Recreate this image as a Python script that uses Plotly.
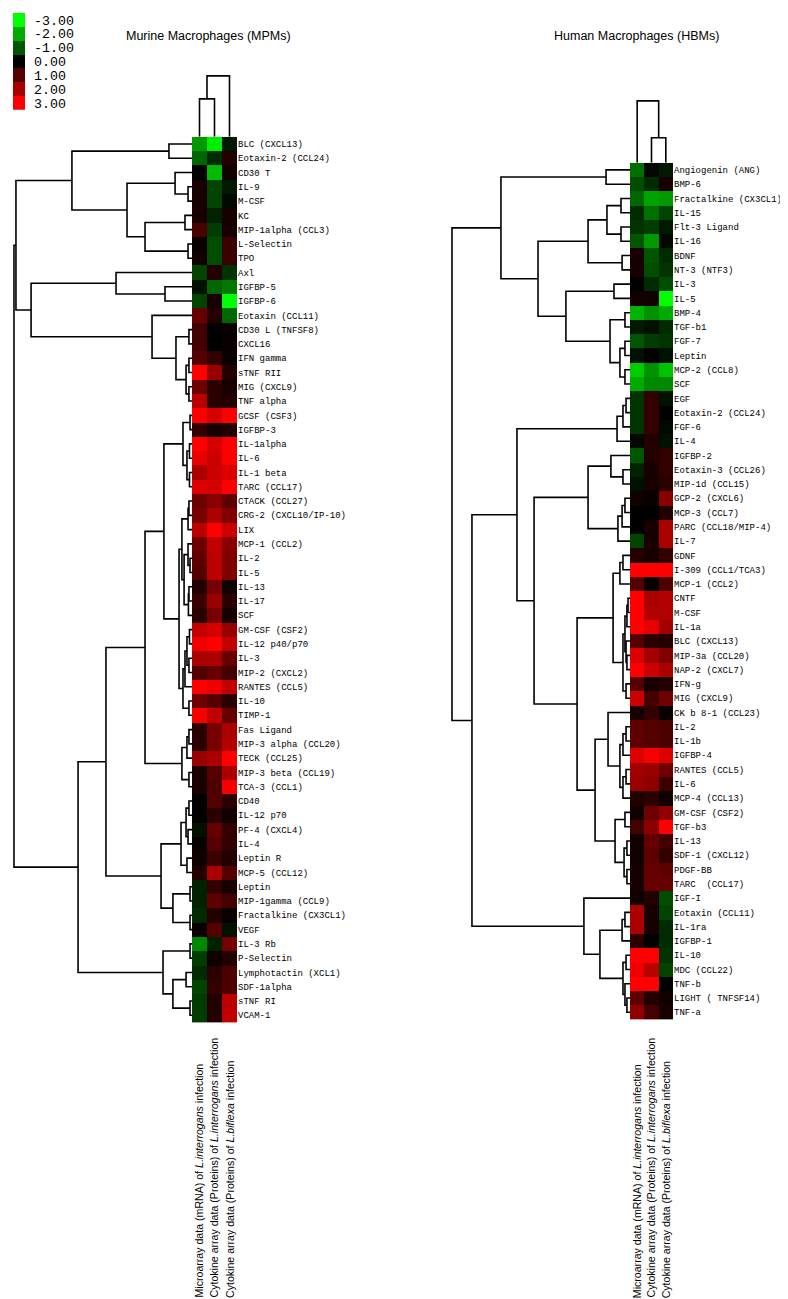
import plotly.graph_objects as go

W, H = 788, 1299

# ---- data: murine macrophages (MPMs) ----
murine_genes = [
    "BLC (CXCL13)", "Eotaxin-2 (CCL24)", "CD30 T", "IL-9", "M-CSF", "KC",
    "MIP-1alpha (CCL3)", "L-Selectin", "TPO", "Axl", "IGFBP-5", "IGFBP-6",
    "Eotaxin (CCL11)", "CD30 L (TNFSF8)", "CXCL16", "IFN gamma", "sTNF RII",
    "MIG (CXCL9)", "TNF alpha", "GCSF (CSF3)", "IGFBP-3", "IL-1alpha", "IL-6",
    "IL-1 beta", "TARC (CCL17)", "CTACK (CCL27)", "CRG-2 (CXCL10/IP-10)", "LIX",
    "MCP-1 (CCL2)", "IL-2", "IL-5", "IL-13", "IL-17", "SCF", "GM-CSF (CSF2)",
    "IL-12 p40/p70", "IL-3", "MIP-2 (CXCL2)", "RANTES (CCL5)", "IL-10", "TIMP-1",
    "Fas Ligand", "MIP-3 alpha (CCL20)", "TECK (CCL25)", "MIP-3 beta (CCL19)",
    "TCA-3 (CCL1)", "CD40", "IL-12 p70", "PF-4 (CXCL4)", "IL-4", "Leptin R",
    "MCP-5 (CCL12)", "Leptin", "MIP-1gamma (CCL9)", "Fractalkine (CX3CL1)", "VEGF",
    "IL-3 Rb", "P-Selectin", "Lymphotactin (XCL1)", "SDF-1alpha", "sTNF RI", "VCAM-1",
]
murine_mrna = [
    -1.8, -1.2, 0.0, 0.3, 0.3, 0.3, 0.9, 0.1, 0.2, -0.8, -0.2, -0.8,
    1.2, 0.8, 0.8, 1.0, 3.0, 1.3, 2.2, 3.0, 0.6, 3.0, 2.7,
    2.0, 2.6, 1.3, 1.4, 2.2, 1.3, 1.1, 1.0, 0.4, 0.7, 0.5, 2.3,
    2.8, 2.0, 1.0, 3.0, 1.3, 2.9, 0.5, 0.5, 1.8, 0.3,
    0.3, 0.0, 0.0, -0.2, 0.1, 0.2, 0.4, -0.4, -0.4, -0.5, 0.1,
    -1.6, -0.7, -0.5, -0.8, -0.7, -0.7,
]
murine_interrogans = [
    -2.8, -0.5, -2.2, -0.8, -0.8, -0.4, -0.7, -0.9, -0.9, 0.4, -1.2, 0.3,
    0.4, 0.0, 0.0, 0.6, 1.8, 0.5, 0.5, 2.5, 0.3, 2.5, 2.4,
    2.4, 2.5, 1.6, 2.0, 3.0, 2.3, 2.2, 2.2, 1.4, 1.8, 1.4, 2.5,
    3.0, 2.0, 1.2, 2.8, 1.0, 2.3, 1.4, 1.4, 2.0, 1.0,
    0.9, 1.0, 0.5, 1.2, 1.0, 0.7, 2.0, 0.6, 1.1, 0.4, 1.0,
    -0.4, 0.2, 0.5, 0.6, 0.4, 0.4,
]
murine_biflexa = [
    -0.3, 0.4, 0.2, -0.3, -0.1, 0.3, 0.3, 0.7, 0.7, -0.6, -1.4, -3.0,
    -1.2, 0.1, 0.1, 0.1, 0.4, 0.3, 0.4, 3.0, 0.4, 3.0, 3.0,
    2.6, 3.0, 1.1, 1.5, 2.4, 1.6, 1.5, 1.5, 0.2, 0.5, 0.3, 1.8,
    2.3, 1.2, 0.8, 2.3, 0.5, 1.2, 2.0, 2.1, 3.0, 2.0,
    2.9, 0.5, 0.2, 0.6, 0.6, 0.4, 1.0, 0.3, 0.8, 0.1, -0.2,
    1.4, 0.4, 0.9, 0.9, 2.2, 2.3,
]
# row clustering [height, left, right]; leaves are row indices
murine_row_tree = [0.989,
    [0.978,
        [0.667, [0.128, 0, 1],
            [0.361, [0.094, 2, [0.022, 3, 4]],
                    [0.261, [0.039, 5, 6], [0.022, 7, 8]]]],
        [0.894, [0.422, 9, [0.15, 10, 11]],
            [0.222, 12, [0.089, [0.017, 13, 14],
                                [0.033, [0.017, 15, 16], [0.017, 17, 18]]]]]],
    [0.633,
        [0.478,
            [0.261,
                [0.156,
                    [0.05, [0.011, 19, 20], [0.028, [0.014, 21, 22], [0.014, 23, 24]]],
                    [0.072,
                        [0.056, [0.022, [0.017, 25, 26], 27],
                                [0.044, [0.022, 28, [0.011, 29, 30]], [0.02, [0.017, 31, 32], 33]]],
                        [0.05, [0.039, [0.028, [0.014, 34, 35], [0.017, 36, 37]], 38],
                               [0.017, 39, 40]]]],
                [0.056, [0.028, [0.017, 41, 42], 43], [0.017, 44, 45]]],
            [0.172, [0.061, [0.033, [0.017, 46, 47], [0.022, 48, 49]], [0.028, 50, 51]],
                    [0.106, [0.011, 52, 53], [0.011, 54, 55]]]],
        [0.161, [0.011, 56, 57], [0.106, [0.033, 58, 59], [0.011, 60, 61]]]]]
murine_col_tree = [0.968, [0.603, 0, 1], 2]

# ---- data: human macrophages (HBMs) ----
human_genes = [
    "Angiogenin (ANG)", "BMP-6", "Fractalkine (CX3CL1)", "IL-15", "Flt-3 Ligand",
    "IL-16", "BDNF", "NT-3 (NTF3)", "IL-3", "IL-5", "BMP-4", "TGF-b1", "FGF-7",
    "Leptin", "MCP-2 (CCL8)", "SCF", "EGF", "Eotaxin-2 (CCL24)", "FGF-6", "IL-4",
    "IGFBP-2", "Eotaxin-3 (CCL26)", "MIP-1d (CCL15)", "GCP-2 (CXCL6)", "MCP-3 (CCL7)",
    "PARC (CCL18/MIP-4)", "IL-7", "GDNF", "I-309 (CCL1/TCA3)", "MCP-1 (CCL2)", "CNTF",
    "M-CSF", "IL-1a", "BLC (CXCL13)", "MIP-3a (CCL20)", "NAP-2 (CXCL7)", "IFN-g",
    "MIG (CXCL9)", "CK b 8-1 (CCL23)", "IL-2", "IL-1b", "IGFBP-4", "RANTES (CCL5)",
    "IL-6", "MCP-4 (CCL13)", "GM-CSF (CSF2)", "TGF-b3", "IL-13", "SDF-1 (CXCL12)",
    "PDGF-BB", "TARC  (CCL17)", "IGF-I", "Eotaxin (CCL11)", "IL-1ra", "IGFBP-1",
    "IL-10", "MDC (CCL22)", "TNF-b", "LIGHT ( TNFSF14)", "TNF-a",
]
human_mrna = [
    -1.3, -0.9, -1.2, -0.5, -0.6, -1.0, 0.3, 0.3, 0.0, 0.2, -2.1, -0.3, -1.0,
    -0.2, -2.4, -2.0, -0.6, -0.6, -0.6, -0.1, -1.0, -0.4, -0.2, 0.2, 0.0,
    0.0, -0.8, 0.4, 3.0, 1.0, 3.0, 3.0, 3.0, 1.0, 2.6, 3.0, 1.0,
    2.4, 0.3, 1.1, 1.1, 2.6, 1.9, 1.8, 0.4, 0.2, 0.8, 0.2, 0.2,
    0.3, 0.3, 0.2, 2.0, 2.0, 0.5, 3.0, 2.8, 3.0, 1.1, 1.7,
]
human_interrogans = [
    -0.1, -0.5, -1.9, -1.3, -0.7, -1.8, -1.0, -0.9, -0.5, 0.2, -1.7, -0.2, -0.7,
    0.0, -1.7, -1.6, 0.6, 0.6, 0.6, 0.4, 0.4, 0.3, 0.3, 0.1, 0.0,
    0.3, 0.3, 0.3, 3.0, 0.1, 2.0, 2.1, 2.7, 0.5, 1.9, 2.4, 0.3,
    0.8, 0.6, 1.0, 1.0, 2.9, 1.8, 1.7, 0.5, 1.3, 1.6, 1.2, 1.1,
    1.2, 1.2, 0.4, 0.3, 0.3, 0.0, 3.0, 2.2, 3.0, 0.4, 0.8,
]
human_biflexa = [
    -0.3, 0.3, -1.8, -0.8, -0.3, -0.1, -0.5, -0.6, -0.9, -3.0, -2.0, -0.5, -0.6,
    -0.2, -2.3, -1.6, -0.2, 0.0, -0.1, -0.2, 0.6, 0.6, 0.5, 1.6, 0.4,
    2.0, 2.0, 0.6, 3.0, 0.9, 2.1, 2.1, 1.9, 0.4, 1.5, 2.0, 0.4,
    1.3, 0.1, 0.9, 0.9, 2.6, 1.3, 0.7, 0.2, 1.7, 3.0, 0.8, 0.6,
    1.1, 1.2, -0.9, -0.8, -0.5, -0.5, -0.6, -0.8, 0.0, 0.2, 0.3,
]
human_row_tree = [0.989,
    [0.717, [0.133, 0, 1],
        [0.511,
            [0.233, [0.128, [0.05, 2, 3], [0.05, 4, 5]], [0.044, 6, 7]],
            [0.356, [0.089, 8, 9],
                    [0.111, [0.028, 10, 11], [0.056, [0.028, 12, 13], [0.028, 14, 15]]]]]],
    [0.878,
        [0.628,
            [0.072, [0.039, [0.022, 16, 17], 18], 19],
            [0.533,
                [0.233, [0.106, 20, [0.039, 21, 22]],
                        [0.067, [0.044, [0.028, 23, 24], 25], 26]],
                [0.294,
                    [0.094, [0.056, [0.039, 27, 28], 29],
                            [0.039, [0.028, [0.017, [0.011, 30, 31], 32], [0.022, 33, [0.017, 34, 35]]],
                                    [0.022, 36, 37]]],
                    [0.194,
                        [0.122, 38, [0.056, [0.039, [0.022, 39, 40], 41], [0.039, [0.022, 42, 43], 44]]],
                        [0.083, [0.028, 45, 46], [0.033, [0.017, 47, 48], [0.017, 49, 50]]]]]]],
        [0.256, 51,
            [0.167, [0.044, [0.028, 52, 53], 54],
                    [0.039, [0.022, 55, 56], [0.028, 57, [0.017, 58, 59]]]]]]]
human_col_tree = [0.984, 0, [0.397, 1, 2]]

legend_values = [-3, -2, -1, 0, 1, 2, 3]
sample_labels = [
    "Microarray data (mRNA) of <i>L.interrogans</i> infection",
    "Cytokine array data (Proteins) of <i>L.interrogans</i> infection",
    "Cytokine array data (Proteins) of <i>L.biflexa</i> infection",
]

RG = [[0, "#00ff00"], [0.5, "#000000"], [1, "#ff0000"]]
MONO = "Liberation Mono, Courier New, monospace"
SANS = "Liberation Sans, Arial, sans-serif"


def dx(x0, x1):
    return [x0 / W, x1 / W]


def dy(y0, y1):
    # y0 top pixel, y1 bottom pixel
    return [1 - y1 / H, 1 - y0 / H]


def tree_lines(tree):
    """walk a [height, left, right] tree, return leaf-pos/height polyline"""
    pos, hts = [], []

    def walk(t):
        if isinstance(t, int):
            return float(t), 0.0
        h, a, b = t
        pa, ha = walk(a)
        pb, hb = walk(b)
        pos.extend([pa, pa, pb, pb, None])
        hts.extend([ha, h, h, hb, None])
        return (pa + pb) / 2, h

    walk(tree)
    return pos, hts


fig = go.Figure()
line = dict(color="black", width=1.6)


def add_panel(genes, cols, row_tree, col_tree, n, hm_x, hm_y, dd_x, dd_range, cd_y):
    xa, ya = "x%d" % n, "y%d" % n
    z = [list(v) for v in zip(*cols)]
    fig.add_trace(go.Heatmap(z=z, x=[0, 1, 2], y=list(range(len(genes))),
                             colorscale=RG, zmin=-3, zmax=3, showscale=False,
                             xaxis=xa, yaxis=ya))
    # row dendrogram
    p, h = tree_lines(row_tree)
    fig.add_trace(go.Scatter(x=h, y=p, mode="lines", line=line, hoverinfo="skip",
                             xaxis="x%d" % (n + 1), yaxis="y%d" % (n + 1)))
    # column dendrogram
    p, h = tree_lines(col_tree)
    fig.add_trace(go.Scatter(x=p, y=h, mode="lines", line=line, hoverinfo="skip",
                             xaxis="x%d" % (n + 2), yaxis="y%d" % (n + 2)))
    nrow = len(genes)
    yr = [nrow - 0.5, -0.5]
    hide = dict(visible=False, showgrid=False, zeroline=False)
    fig.layout["xaxis%d" % n] = dict(domain=dx(*hm_x), range=[-0.5, 2.5], anchor=ya, **hide)
    fig.layout["yaxis%d" % n] = dict(domain=dy(*hm_y), range=yr, anchor=xa, side="right",
                                     tickvals=list(range(nrow)), ticktext=genes, ticks="",
                                     showgrid=False, zeroline=False, showline=False,
                                     ticklabelstandoff=0,
                                     tickfont=dict(family=MONO, size=9.0, color="black"))
    fig.layout["xaxis%d" % (n + 1)] = dict(domain=dx(*dd_x), range=dd_range,
                                           anchor="y%d" % (n + 1), **hide)
    fig.layout["yaxis%d" % (n + 1)] = dict(domain=dy(*hm_y), range=yr,
                                           anchor="x%d" % (n + 1), **hide)
    fig.layout["xaxis%d" % (n + 2)] = dict(domain=dx(*hm_x), range=[-0.5, 2.5],
                                           anchor="y%d" % (n + 2), **hide)
    fig.layout["yaxis%d" % (n + 2)] = dict(domain=dy(*cd_y), range=[0, 1],
                                           anchor="x%d" % (n + 2), **hide)
    for i, t in enumerate(sample_labels):
        fig.add_annotation(x=i, xref=xa, y=1 - 1294 / H, yref="paper", text=t,
                           textangle=-90, showarrow=False, xanchor="center",
                           yanchor="bottom", font=dict(family=SANS, size=10.6, color="black"))


add_panel(murine_genes, [murine_mrna, murine_interrogans, murine_biflexa],
          murine_row_tree, murine_col_tree, 1,
          hm_x=(184, 229), hm_y=(129, 1016), dd_x=(0, 184), dd_range=[184 / 180, 0],
          cd_y=(66, 129))
add_panel(human_genes, [human_mrna, human_interrogans, human_biflexa],
          human_row_tree, human_col_tree, 4,
          hm_x=(622, 665), hm_y=(155, 1013), dd_x=(442, 622), dd_range=[1.0, 0],
          cd_y=(92, 155))

# colour key
fig.add_trace(go.Heatmap(z=[[v] for v in legend_values], x=[0], y=legend_values,
                         colorscale=RG, zmin=-3, zmax=3, showscale=False,
                         xaxis="x7", yaxis="y7"))
fig.layout["xaxis7"] = dict(domain=dx(5, 17), range=[-0.5, 0.5], anchor="y7",
                            visible=False, showgrid=False, zeroline=False)
fig.layout["yaxis7"] = dict(domain=dy(5, 102), range=[3.5, -3.5], anchor="x7", side="right",
                            tickvals=legend_values, ticktext=["%.2f" % v for v in legend_values],
                            ticks="", showgrid=False, zeroline=False, showline=False,
                            ticklabelstandoff=8,
                            tickfont=dict(family=MONO, size=13.3, color="black"))

fig.add_annotation(x=200 / W, y=1 - 28 / H, xref="paper", yref="paper", showarrow=False,
                   text="Murine Macrophages (MPMs)", xanchor="center", yanchor="middle",
                   font=dict(family=SANS, size=12.5, color="black"))
fig.add_annotation(x=628 / W, y=1 - 28 / H, xref="paper", yref="paper", showarrow=False,
                   text="Human Macrophages (HBMs)", xanchor="center", yanchor="middle",
                   font=dict(family=SANS, size=12.5, color="black"))

fig.update_layout(width=W, height=H, margin=dict(l=0, r=0, t=0, b=0),
                  paper_bgcolor="white", plot_bgcolor="white", showlegend=False)

fig.write_html("out.html")
